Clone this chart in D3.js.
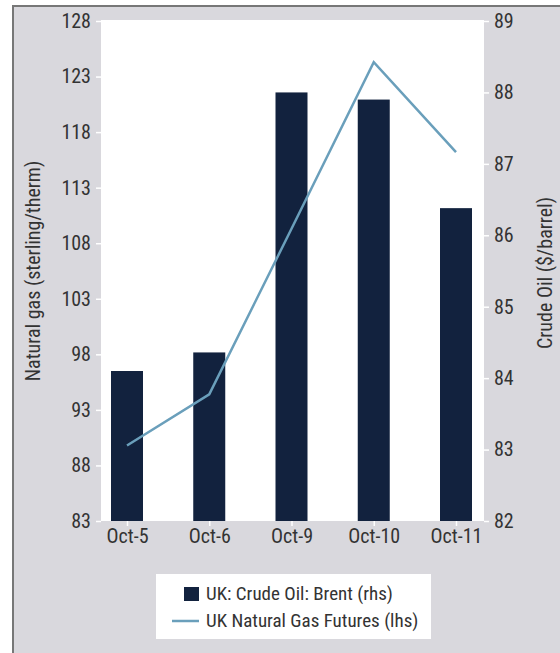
<!DOCTYPE html>
<html>
<head>
<meta charset="utf-8">
<script src="https://cdn.jsdelivr.net/npm/d3@7"></script>
<style>
  body { margin: 0; background: #fff; }
  svg text { font-family: "Liberation Sans Narrow", "Arial Narrow", "Roboto Condensed", sans-serif; fill: #333; }
</style>
</head>
<body>
<div id="chart"></div>
<script>
// data
const dates = ['Oct-5', 'Oct-6', 'Oct-9', 'Oct-10', 'Oct-11'];
const brent = [84.1, 84.36, 88.0, 87.9, 86.38];      // rhs, bars
const gas = [89.8, 94.4, 109.3, 124.3, 116.2];       // lhs, line
const leftTicks = [83, 88, 93, 98, 103, 108, 113, 118, 123, 128];
const rightTicks = [82, 83, 84, 85, 86, 87, 88, 89];

const W = 560, H = 653;
const plot = { left: 101, right: 484, top: 21, bottom: 521 };

const svg = d3.select('#chart').append('svg')
    .attr('width', W)
    .attr('height', H);

// grey frame
svg.append('rect').attr('x', 0).attr('y', 0).attr('width', W).attr('height', H).attr('fill', '#fff');
svg.append('rect').attr('x', 13).attr('y', 6).attr('width', W).attr('height', H)
    .attr('fill', '#d9d8dd').attr('stroke', '#777').attr('stroke-width', 2);

svg.append('rect')
    .attr('x', plot.left).attr('y', plot.top - 1)
    .attr('width', plot.right - plot.left).attr('height', plot.bottom - plot.top + 1)
    .attr('fill', '#fff');

const x = d3.scalePoint().domain(dates).range([plot.left + 26, plot.right - 28]);
const yL = d3.scaleLinear().domain([83, 128]).range([plot.bottom, plot.top]);
const yR = d3.scaleLinear().domain([82, 89]).range([plot.bottom, plot.top]);
const barW = 32;

svg.selectAll('rect.bar')
    .data(brent)
    .enter()
    .append('rect')
    .attr('class', 'bar')
    .attr('x', (d, i) => x(dates[i]) - barW / 2)
    .attr('y', d => yR(d))
    .attr('width', barW)
    .attr('height', d => plot.bottom - yR(d))
    .attr('fill', '#12223e');

const line = d3.line()
    .x((d, i) => x(dates[i]))
    .y(d => yL(d));

svg.append('path')
    .datum(gas)
    .attr('d', line)
    .attr('fill', 'none')
    .attr('stroke', '#6a9fbb')
    .attr('stroke-width', 2.5);

// axes
function styleAxis(g) {
    g.select('.domain').remove();
    g.selectAll('.tick line').attr('stroke', '#fff').attr('stroke-width', 1.5);
    g.selectAll('.tick text').attr('font-size', 20).attr('fill', '#333');
}

svg.append('g')
    .attr('transform', `translate(${plot.left},0)`)
    .call(d3.axisLeft(yL).tickValues(leftTicks).tickSize(5).tickPadding(5))
    .call(styleAxis);

svg.append('g')
    .attr('transform', `translate(${plot.right},0)`)
    .call(d3.axisRight(yR).tickValues(rightTicks).tickFormat(d3.format('d')).tickSize(5).tickPadding(5))
    .call(styleAxis);

svg.append('g')
    .attr('transform', `translate(0,${plot.bottom})`)
    .call(d3.axisBottom(x).tickSize(5).tickPadding(3))
    .call(styleAxis);

svg.append('text')
    .attr('transform', 'translate(40,271) rotate(-90)')
    .attr('text-anchor', 'middle')
    .attr('font-size', 20)
    .text('Natural gas (sterling/therm)');

svg.append('text')
    .attr('transform', 'translate(552,273) rotate(-90)')
    .attr('text-anchor', 'middle')
    .attr('font-size', 20)
    .text('Crude Oil ($/barrel)');

// legend
const lg = svg.append('g');
lg.append('rect').attr('x', 156).attr('y', 574).attr('width', 275).attr('height', 65).attr('fill', '#fff');
lg.append('rect').attr('x', 184).attr('y', 587).attr('width', 15).attr('height', 14).attr('fill', '#12223e');
lg.append('text').attr('x', 206).attr('y', 600).attr('font-size', 19).text('UK: Crude Oil: Brent (rhs)');
lg.append('line').attr('x1', 172).attr('x2', 199).attr('y1', 621).attr('y2', 621)
    .attr('stroke', '#6a9fbb').attr('stroke-width', 2.5);
lg.append('text').attr('x', 206).attr('y', 627).attr('font-size', 19).text('UK Natural Gas Futures (lhs)');
</script>
</body>
</html>
